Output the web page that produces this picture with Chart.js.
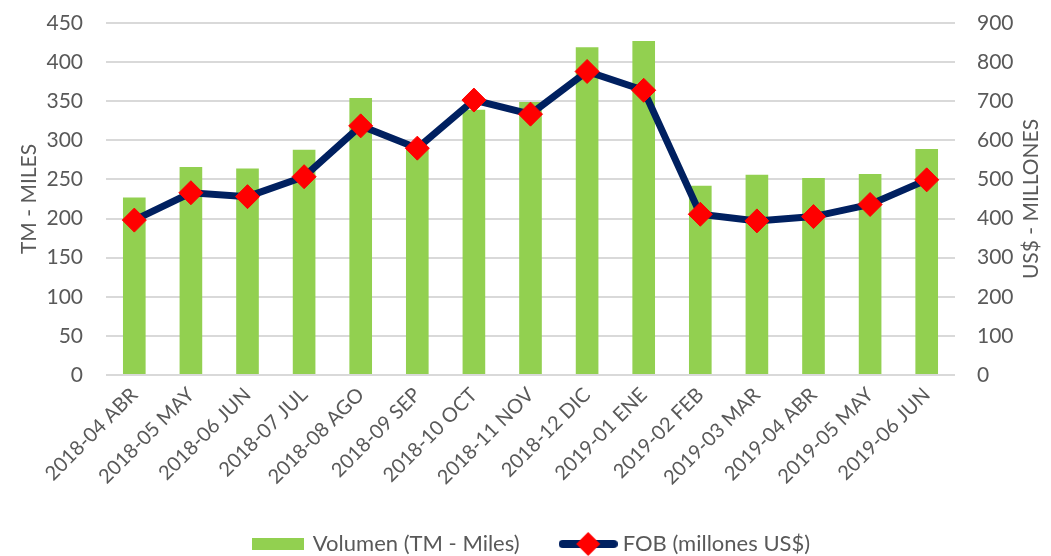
<!DOCTYPE html>
<html>
<head>
<meta charset="utf-8">
<script src="https://cdn.jsdelivr.net/npm/chart.js@4"></script>
<style>
  html, body { margin: 0; padding: 0; background: #fff; }
  #wrap { width: 1051px; height: 556px; }
</style>
</head>
<body>
<div id="wrap"><canvas id="grafico"></canvas></div>
<script>
const meses = ['2018-04 ABR', '2018-05 MAY', '2018-06 JUN', '2018-07 JUL', '2018-08 AGO',
  '2018-09 SEP', '2018-10 OCT', '2018-11 NOV', '2018-12 DIC', '2019-01 ENE',
  '2019-02 FEB', '2019-03 MAR', '2019-04 ABR', '2019-05 MAY', '2019-06 JUN'];
const volumen = [227, 266, 264, 288, 354, 290, 339, 349, 419, 427, 242, 256, 252, 257, 289];
const fob = [396, 466, 456, 507, 637, 580, 703, 667, 776, 728, 411, 394, 405, 436, 499];

const verde = '#92d050';
const azul = '#002060';
const rojo = '#ff0000';
const gris = '#595959';
const fuente = 'Lato, "Open Sans", sans-serif';

// iconos de la leyenda
function iconoBarra() {
    const c = document.createElement('canvas');
    c.width = 52; c.height = 12;
    const ctx = c.getContext('2d');
    ctx.fillStyle = verde;
    ctx.fillRect(0, 0, 52, 12);
    return c;
}
function iconoLinea() {
    const c = document.createElement('canvas');
    c.width = 59; c.height = 26;
    const ctx = c.getContext('2d');
    ctx.strokeStyle = azul;
    ctx.lineWidth = 8;
    ctx.lineCap = 'round';
    ctx.beginPath();
    ctx.moveTo(4, 13); ctx.lineTo(55, 13);
    ctx.stroke();
    ctx.fillStyle = rojo;
    ctx.beginPath();
    ctx.moveTo(29.5, 1); ctx.lineTo(41.5, 13); ctx.lineTo(29.5, 25); ctx.lineTo(17.5, 13);
    ctx.closePath();
    ctx.fill();
    return c;
}

// titulo del eje derecho, de abajo hacia arriba
const tituloDerecho = {
    id: 'tituloDerecho',
    afterDraw(chart) {
        const ctx = chart.ctx;
        const a = chart.chartArea;
        ctx.save();
        ctx.translate(1031, (a.top + a.bottom) / 2);
        ctx.rotate(-Math.PI / 2);
        ctx.font = '21px ' + fuente;
        ctx.fillStyle = gris;
        ctx.textAlign = 'center';
        ctx.textBaseline = 'middle';
        ctx.fillText('US$ - MILLONES', 0, 0);
        ctx.restore();
    }
};

Chart.defaults.font.family = fuente;
Chart.defaults.color = gris;

new Chart(document.getElementById('grafico'), {
    data: {
        labels: meses,
        datasets: [{
            type: 'line',
            label: 'FOB (millones US$)',
            data: fob,
            yAxisID: 'y2',
            borderColor: azul,
            borderWidth: 7,
            pointStyle: 'rectRot',
            pointRadius: 12,
            pointHoverRadius: 12,
            pointBackgroundColor: rojo,
            pointBorderColor: rojo,
            pointBorderWidth: 1,
            tension: 0,
            clip: false,
            order: 0
        }, {
            type: 'bar',
            label: 'Volumen (TM - Miles)',
            data: volumen,
            yAxisID: 'y',
            backgroundColor: verde,
            categoryPercentage: 0.8,
            barPercentage: 0.5,
            order: 1
        }]
    },
    options: {
        responsive: true,
        maintainAspectRatio: false,
        animation: false,
        layout: { autoPadding: false, padding: { left: 14, right: 0, top: 23, bottom: -9 } },
        plugins: {
            tooltip: { enabled: false },
            legend: {
                position: 'bottom',
                labels: {
                    usePointStyle: true,
                    pointStyleWidth: 47,
                    padding: 45,
                    font: { size: 22 },
                    color: gris,
                    generateLabels(chart) {
                        return [{
                            text: 'Volumen (TM - Miles)', pointStyle: iconoBarra(),
                            fillStyle: verde, strokeStyle: verde, lineWidth: 0, datasetIndex: 1, fontColor: gris
                        }, {
                            text: 'FOB (millones US$)', pointStyle: iconoLinea(),
                            fillStyle: rojo, strokeStyle: azul, lineWidth: 0, datasetIndex: 0, fontColor: gris
                        }];
                    }
                }
            }
        },
        scales: {
            x: {
                grid: { display: false, drawTicks: false },
                border: { display: false },
                ticks: { minRotation: 45, maxRotation: 45, padding: 8, font: { size: 20 } },
                afterFit(scale) { scale.height = 113; }
            },
            y: {
                position: 'left',
                min: 0, max: 450,
                ticks: { stepSize: 50, padding: 3, font: { size: 21 } },
                grid: { color: '#d9d9d9', lineWidth: 2, tickLength: 20, tickColor: 'rgba(0,0,0,0)' },
                border: { display: false },
                title: { display: true, text: 'TM - MILES', font: { size: 21 }, padding: { top: 3, bottom: 0 } },
                afterFit(scale) { scale.width = 92; }
            },
            y2: {
                position: 'right',
                min: 0, max: 900,
                ticks: { stepSize: 100, padding: 3, font: { size: 21 } },
                grid: { color: 'rgba(0,0,0,0)', tickLength: 19, tickColor: 'rgba(0,0,0,0)', drawOnChartArea: false },
                border: { display: false },
                afterFit(scale) { scale.width = 96; }
            }
        }
    },
    plugins: [tituloDerecho]
});
</script>
</body>
</html>
